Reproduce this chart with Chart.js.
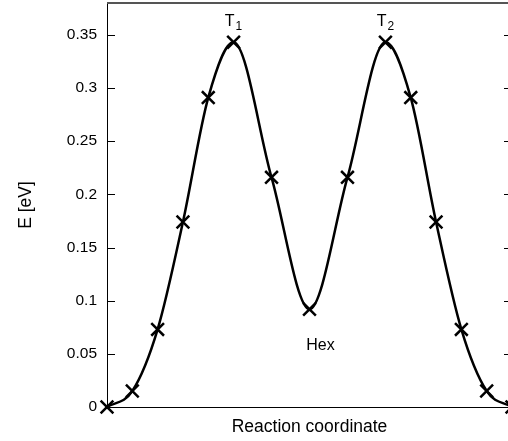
<!DOCTYPE html>
<html>
<head>
<meta charset="utf-8">
<script src="https://cdn.jsdelivr.net/npm/chart.js@4/dist/chart.umd.min.js"></script>
<style>
  html, body { margin: 0; padding: 0; background: #fff; overflow: hidden; }
  #wrap { width: 514px; height: 441px; }
</style>
</head>
<body>
<div id="wrap"><canvas id="myChart"></canvas></div>
<script>
// reaction path images and their energies (eV)
const reactionCoord = [0, 1, 2, 3, 4, 5, 6.5, 8, 9.5, 11, 12, 13, 14, 15, 16];
const energy = [0, 0.015, 0.073, 0.174, 0.291, 0.343, 0.216, 0.092, 0.216, 0.343, 0.291, 0.174, 0.073, 0.015, 0];
const yTicks = [0, 0.05, 0.1, 0.15, 0.2, 0.25, 0.3, 0.35];

// state labels: [index of point, main text, subscript, dy in px]
const stateLabels = [
  [5, 'T', '1', -21],
  [9, 'T', '2', -21],
  [7, 'Hex', '', 36],
];

const FONT = '"Liberation Sans", Arial, sans-serif';

const frame = {
  id: 'frame',
  afterDraw(chart) {
    const ctx = chart.ctx;
    const a = chart.chartArea;
    const y = chart.scales.y;
    ctx.save();
    // top border
    ctx.strokeStyle = '#555';
    ctx.lineWidth = 2;
    ctx.beginPath();
    ctx.moveTo(a.left, a.top);
    ctx.lineTo(a.right + 2, a.top);
    ctx.stroke();
    // inward ticks on both sides
    ctx.strokeStyle = '#000';
    ctx.lineWidth = 1;
    yTicks.forEach(v => {
      const py = Math.round(y.getPixelForValue(v)) + 0.5;
      ctx.beginPath();
      ctx.moveTo(a.left, py);
      ctx.lineTo(a.left + 8, py);
      ctx.moveTo(a.right, py);
      ctx.lineTo(a.right - 8, py);
      ctx.stroke();
    });
    // state labels
    const x = chart.scales.x;
    ctx.fillStyle = '#000';
    ctx.textBaseline = 'middle';
    stateLabels.forEach(([i, txt, sub, dy]) => {
      const px = x.getPixelForValue(reactionCoord[i]);
      const py = y.getPixelForValue(energy[i]) + dy;
      ctx.font = '16px ' + FONT;
      const w = ctx.measureText(txt).width;
      ctx.font = '12px ' + FONT;
      const ws = sub ? ctx.measureText(sub).width + 1 : 0;
      let left = px - (w + ws) / 2 + (sub ? 0 : 11);
      ctx.font = '16px ' + FONT;
      ctx.textAlign = 'left';
      ctx.fillText(txt, left, py);
      if (sub) {
        ctx.font = '12px ' + FONT;
        ctx.fillText(sub, left + w + 1, py + 5);
      }
    });
    ctx.restore();
  }
};

const ctx = document.getElementById('myChart').getContext('2d');
const myChart = new Chart(ctx, {
  type: 'line',
  data: {
    datasets: [{
      data: reactionCoord.map((c, i) => ({ x: c, y: energy[i] })),
      borderColor: '#000',
      borderWidth: 2.5,
      cubicInterpolationMode: 'monotone',
      pointStyle: 'crossRot',
      pointRadius: 9,
      pointBorderWidth: 2.5,
      pointBorderColor: '#000',
      pointBackgroundColor: '#000',
      fill: false,
      clip: false,
    }]
  },
  options: {
    responsive: true,
    maintainAspectRatio: false,
    animation: false,
    layout: { autoPadding: false, padding: { top: 3, right: 2, left: 0, bottom: 0 } },
    plugins: { legend: { display: false }, tooltip: { enabled: false } },
    scales: {
      x: {
        type: 'linear',
        min: 0,
        max: 16,
        grid: { display: false },
        border: { display: true, color: '#000', width: 1 },
        ticks: { display: false },
        title: { display: true, text: 'Reaction coordinate', color: '#000',
                 font: { family: FONT, size: 17.5 }, padding: { top: 0, bottom: 3 } },
        afterFit: s => { s.height = 34; s.paddingLeft = 0; s.paddingRight = 0; }
      },
      y: {
        min: 0,
        max: 0.38,
        grid: { display: false, drawTicks: false },
        border: { display: true, color: '#000', width: 1 },
        ticks: { stepSize: 0.05, includeBounds: false, padding: 10, color: '#000',
                 font: { family: FONT, size: 15.5 },
                 callback: v => String(+v.toFixed(2)) },
        title: { display: true, text: 'E [eV]', color: '#000',
                 font: { family: FONT, size: 17.5 }, padding: { top: 16, bottom: 0 } },
        afterFit: s => { s.width = 107; s.paddingTop = 0; s.paddingBottom = 0; }
      }
    }
  },
  plugins: [frame]
});
</script>
</body>
</html>
